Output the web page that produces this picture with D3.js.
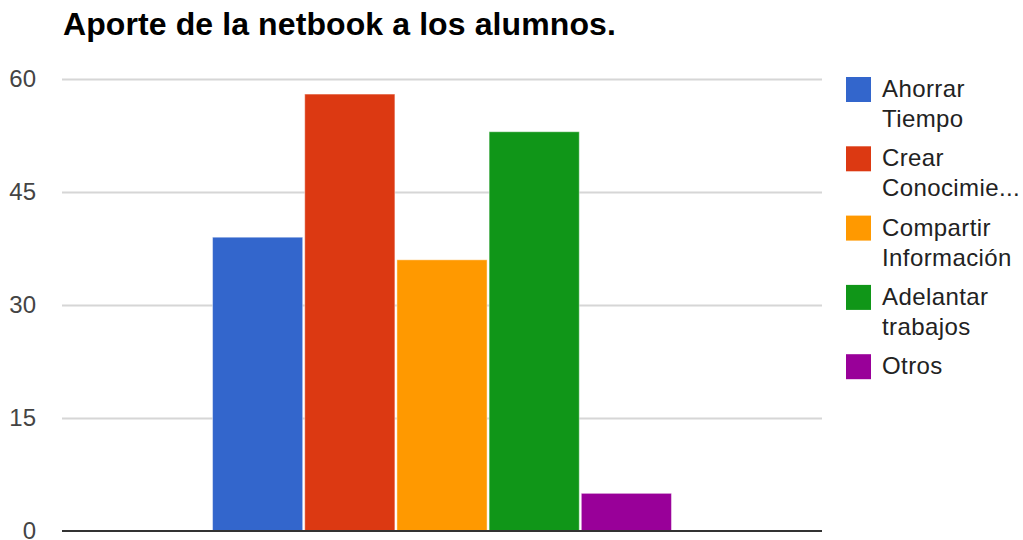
<!DOCTYPE html>
<html>
<head>
<meta charset="utf-8">
<script src="https://cdn.jsdelivr.net/npm/d3@7"></script>
<style>
  html, body { margin: 0; padding: 0; background: #fff; }
  svg { display: block; }
  text { font-family: "Liberation Sans", Arial, sans-serif; }
</style>
</head>
<body>
<svg id="chart" width="1023" height="540"></svg>
<script>
const title = "Aporte de la netbook a los alumnos.";
const categories = [""];
const seriesNames = ["Ahorrar Tiempo", "Crear Conocimiento", "Compartir Información", "Adelantar trabajos", "Otros"];
const legendLines = [["Ahorrar", "Tiempo"], ["Crear", "Conocimie..."], ["Compartir", "Información"], ["Adelantar", "trabajos"], ["Otros"]];
const seriesValues = [39, 58, 36, 53, 5];
const seriesColors = ["#3366cc", "#dc3912", "#ff9900", "#109618", "#990099"];
const yTicks = [0, 15, 30, 45, 60];

const svg = d3.select("#chart");
const plot = { left: 62, right: 822, top: 79, bottom: 531 };

const y = d3.scaleLinear().domain([0, 60]).range([plot.bottom, plot.top]);
const x0 = d3.scaleBand().domain(categories).range([plot.left, plot.right])
  .paddingInner(0).paddingOuter(0.328);
const x1 = d3.scaleBand().domain(seriesNames).range([0, x0.bandwidth()]).paddingInner(0.022).paddingOuter(0);

// title
svg.append("text").attr("x", 63).attr("y", 35)
  .attr("font-size", 32).attr("font-weight", "bold").attr("fill", "#000")
  .attr("letter-spacing", 0.1)
  .text(title);

// gridlines
const yAxis = d3.axisLeft(y).tickValues(yTicks).tickSize(-(plot.right - plot.left)).tickPadding(26);
const gy = svg.append("g").attr("transform", `translate(${plot.left},0)`).call(yAxis);
gy.select(".domain").remove();
gy.selectAll(".tick line").attr("stroke", "#d6d6d6").attr("stroke-width", 2)
  .attr("display", d => d === 0 ? "none" : null);
gy.selectAll(".tick text").attr("font-size", 24).attr("fill", "#444")
  .attr("font-family", "'Liberation Sans', Arial, sans-serif");

// bars
const g = svg.append("g");
categories.forEach(c => {
  g.selectAll("rect.bar").data(seriesValues).enter().append("rect")
    .attr("class", "bar")
    .attr("x", (d, i) => x0(c) + x1(seriesNames[i]))
    .attr("y", d => y(d))
    .attr("width", x1.bandwidth())
    .attr("height", d => plot.bottom - y(d))
    .attr("fill", (d, i) => seriesColors[i])
    .attr("stroke", "rgba(255,255,255,0.45)")
    .attr("stroke-width", 1);
});

// baseline
svg.append("line").attr("x1", plot.left).attr("x2", plot.right)
  .attr("y1", y(0)).attr("y2", y(0))
  .attr("stroke", "#333").attr("stroke-width", 2);

// legend
const legend = svg.append("g");
legendLines.forEach((lines, i) => {
  const top = 77 + i * 69.3;
  legend.append("rect").attr("x", 846).attr("y", top).attr("width", 25).attr("height", 25)
    .attr("fill", seriesColors[i]);
  lines.forEach((ln, j) => {
    legend.append("text").attr("x", 882).attr("y", top + 20 + j * 30)
      .attr("font-size", 24).attr("letter-spacing", 0.4).attr("fill", "#222").text(ln);
  });
});
</script>
</body>
</html>
